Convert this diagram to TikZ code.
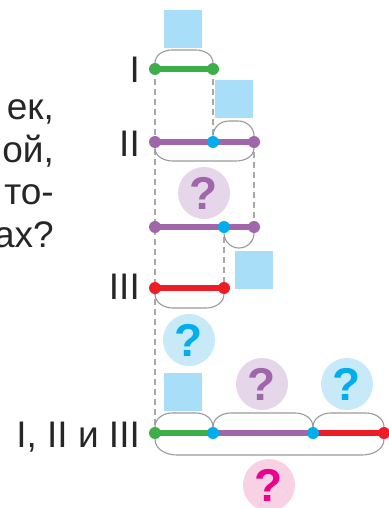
\documentclass[tikz,border=0pt]{standalone}
\usepackage{fontspec}
\setmainfont{Liberation Sans}
\usetikzlibrary{calc}
\definecolor{cgreen}{HTML}{3DAE49}
\definecolor{cpurple}{HTML}{A066AA}
\definecolor{cred}{HTML}{EE1C25}
\definecolor{cblue}{HTML}{00AEEF}
\definecolor{sqblue}{HTML}{A8DEF8}
\definecolor{circpurple}{HTML}{E5D6E9}
\definecolor{circblue}{HTML}{C8E9F8}
\definecolor{circpink}{HTML}{F9D1E5}
\definecolor{cpink}{HTML}{EC008C}
\definecolor{arcgray}{HTML}{9A9A9A}
\definecolor{dashgray}{HTML}{A8A8A8}
\begin{document}
\begin{tikzpicture}[x=1pt,y=-1pt,
  seg/.style={line width=6pt},
  dashln/.style={dashgray,line width=1.3pt,dash pattern=on 6pt off 4pt},
  arcln/.style={arcgray,line width=1.1pt},
  dotn/.style={circle,inner sep=0pt,minimum size=12pt},
  sqn/.style={rectangle,fill=sqblue,inner sep=0pt,minimum size=38pt},
  qn/.style={circle,inner sep=0pt,minimum size=52pt,font=\fontsize{46}{46}\selectfont\bfseries},
  lab/.style={inner sep=0pt,font=\fontsize{37}{37}\selectfont,text=black!85},
  txt/.style={inner sep=0pt,anchor=base east,font=\fontsize{37}{37}\selectfont,text=black!85}
]
\useasboundingbox (0,0) rectangle (388,508);
% left text
\node[txt] (t1) at (54,120) {ек,};
\node[txt] (t2) at (54,162) {ой,};
\node[txt] (t3) at (54,204) {то-};
\node[txt] (t4) at (54,247) {ах?};
% coordinates
\coordinate (a1) at (155,69);  \coordinate (a2) at (213,69);
\coordinate (b1) at (155,142); \coordinate (b2) at (213,142); \coordinate (b3) at (254,142);
\coordinate (c1) at (155,227); \coordinate (c2) at (224,227); \coordinate (c3) at (254,227);
\coordinate (e1) at (155,288); \coordinate (e2) at (224,288);
\coordinate (d1) at (155,433); \coordinate (d2) at (213,433); \coordinate (d3) at (313,433); \coordinate (d4) at (384,433);
% squares
\node[sqn] (s1) at (183,29) {};
\node[sqn] (s2) at (234,99) {};
\node[sqn] (s3) at (254,270) {};
\node[sqn] (s4) at (183,392) {};
% question circles
\node[qn,fill=circpurple,text=cpurple] (q1) at (204,193) {?};
\node[qn,fill=circblue,text=cblue] (q2) at (189,340) {?};
\node[qn,fill=circpurple,text=cpurple] (q3) at (262,384) {?};
\node[qn,fill=circblue,text=cblue] (q4) at (347,384) {?};
\node[qn,fill=circpink,text=cpink] (q5) at (269,485) {?};
% dashed guides
\draw[dashln] (a1) -- (d1);
\draw[dashln] (a2) -- (b2);
\draw[dashln] (b3) -- (c3);
\draw[dashln] (c2) -- (e2);
% arcs
\draw[arcln] ($(a1)+(0,-6)$) to[out=90,in=180] ($(a1)+(17,-19)$) -- ($(a2)+(-17,-19)$) to[out=0,in=90] ($(a2)+(0,-6)$);
\draw[arcln] ($(b2)+(0,-6)$) to[out=90,in=180] ($(b2)+(16,-21)$) -- ($(b3)+(-16,-21)$) to[out=0,in=90] ($(b3)+(0,-6)$);
\draw[arcln] ($(b1)+(0,6)$) to[out=-90,in=180] ($(b1)+(18,19)$) -- ($(b3)+(-18,19)$) to[out=0,in=-90] ($(b3)+(0,6)$);
\draw[arcln] ($(c2)+(0,6)$) to[out=-90,in=180] ($(c2)+(15,21)$) -- ($(c3)+(-15,21)$) to[out=0,in=-90] ($(c3)+(0,6)$);
\draw[arcln] ($(e1)+(0,6)$) to[out=-90,in=180] ($(e1)+(18,20)$) -- ($(e2)+(-18,20)$) to[out=0,in=-90] ($(e2)+(0,6)$);
\draw[arcln] ($(d1)+(0,-6)$) to[out=90,in=180] ($(d1)+(17,-20)$) -- ($(d2)+(-17,-20)$) to[out=0,in=90] ($(d2)+(0,-6)$);
\draw[arcln] ($(d2)+(0,-6)$) to[out=90,in=180] ($(d2)+(18,-20)$) -- ($(d3)+(-18,-20)$) to[out=0,in=90] ($(d3)+(0,-6)$);
\draw[arcln] ($(d3)+(0,-6)$) to[out=90,in=180] ($(d3)+(18,-20)$) -- ($(d4)+(-18,-20)$) to[out=0,in=90] ($(d4)+(0,-6)$);
\draw[arcln] ($(d1)+(0,6)$) to[out=-90,in=180] ($(d1)+(22,22)$) -- ($(d4)+(-22,22)$) to[out=0,in=-90] ($(d4)+(0,6)$);
% segments
\draw[seg,cgreen] (a1) -- (a2);
\draw[seg,cpurple] (b1) -- (b3);
\draw[seg,cpurple] (c1) -- (c3);
\draw[seg,cred] (e1) -- (e2);
\draw[seg,cgreen] (d1) -- (d2);
\draw[seg,cpurple] (d2) -- (d3);
\draw[seg,cred] (d3) -- (d4);
% dots
\node[dotn,fill=cgreen] (na1) at (a1) {};
\node[dotn,fill=cgreen] (na2) at (a2) {};
\node[dotn,fill=cpurple] (nb1) at (b1) {};
\node[dotn,fill=cblue] (nb2) at (b2) {};
\node[dotn,fill=cpurple] (nb3) at (b3) {};
\node[dotn,fill=cpurple] (nc1) at (c1) {};
\node[dotn,fill=cblue] (nc2) at (c2) {};
\node[dotn,fill=cpurple] (nc3) at (c3) {};
\node[dotn,fill=cred] (ne1) at (e1) {};
\node[dotn,fill=cred] (ne2) at (e2) {};
\node[dotn,fill=cgreen] (nd1) at (d1) {};
\node[dotn,fill=cblue] (nd2) at (d2) {};
\node[dotn,fill=cblue] (nd3) at (d3) {};
\node[dotn,fill=cred] (nd4) at (d4) {};
% roman labels
\node[lab,anchor=base east] (l1) at (140,83) {I};
\node[lab,anchor=base east] (l2) at (140,156) {II};
\node[lab,anchor=base east] (l3) at (140,299) {III};
\node[lab,anchor=base east] (l4) at (140,447) {I, II и III};
\end{tikzpicture}
\end{document}
